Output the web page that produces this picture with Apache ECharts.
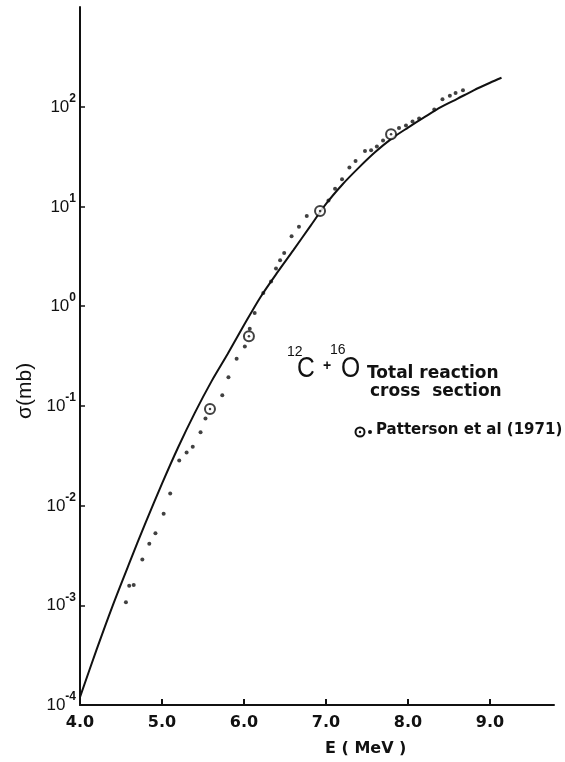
<!DOCTYPE html>
<html lang="en">
<head>
<meta charset="UTF-8">
<title>12C + 16O total reaction cross section</title>
<script src="https://cdn.jsdelivr.net/npm/echarts@6.0.0/dist/echarts.min.js"></script>
<style>
  html, body { margin: 0; padding: 0; background: #fff; }
  #chart { width: 565px; height: 762px; }
</style>
</head>
<body>
<div id="chart"></div>
<script type="text/javascript">
  // calculated curve (solid line)
  var curveE = [4.0, 4.2, 4.4, 4.6, 4.8, 5.0, 5.2, 5.4, 5.6, 5.8, 6.0, 6.2, 6.4, 6.6, 6.8, 7.0,
                7.2, 7.4, 7.6, 7.8, 8.0, 8.2, 8.4, 8.6, 8.8, 9.0, 9.14];
  var curveSigma = [1.2e-4, 3.55e-4, 1.0e-3, 2.63e-3, 6.76e-3, 1.66e-2, 3.89e-2, 8.51e-2, 0.174, 0.331,
                    0.646, 1.23, 2.14, 3.63, 6.2, 10.6, 16.6, 24.5, 35.1, 47.9, 61.7, 78.5, 98.9,
                    120, 146, 174, 195];

  // Patterson et al (1971) - dots
  var dotE = [4.56, 4.60, 4.655, 4.76, 4.845, 4.92, 5.02, 5.10, 5.21, 5.30, 5.375, 5.47, 5.53,
              5.735, 5.81, 5.91, 6.01, 6.07, 6.13, 6.235, 6.33, 6.39, 6.44, 6.49, 6.58, 6.67, 6.765,
              7.03, 7.11, 7.195, 7.285, 7.36, 7.475, 7.55, 7.62, 7.695, 7.89, 7.975, 8.055, 8.135,
              8.32, 8.42, 8.51, 8.58, 8.67];
  var dotSigma = [1.07e-3, 1.57e-3, 1.6e-3, 2.88e-3, 4.14e-3, 5.28e-3, 8.3e-3, 1.32e-2, 2.83e-2, 3.4e-2,
                  3.88e-2, 5.44e-2, 7.48e-2, 0.128, 0.194, 0.296, 0.394, 0.593, 0.853, 1.355, 1.77,
                  2.38, 2.88, 3.42, 5.02, 6.25, 8.02, 11.5, 15.0, 18.7, 24.5, 28.6, 36.0, 36.6, 39.9,
                  45.8, 61.0, 64.9, 71.1, 76.2, 94.0, 119, 129, 137, 146];

  // Patterson et al (1971) - circled points
  var circE = [5.585, 6.06, 6.927, 7.793];
  var circSigma = [0.093, 0.50, 9.0, 53.0];

  var xTicks = [4, 5, 6, 7, 8, 9];
  var yTicks = [1e-4, 1e-3, 1e-2, 1e-1, 1, 10, 100];

  function pairs(xs, ys) {
    var out = [];
    for (var i = 0; i < xs.length; i++) out.push([xs[i], ys[i]]);
    return out;
  }

  var font = '"Liberation Sans", "DejaVu Sans", sans-serif';
  var boldFont = '"DejaVu Sans", "Liberation Sans", sans-serif';
  var ink = '#111';

  var myChart = echarts.init(document.getElementById('chart'));
  myChart.setOption({
    animation: false,
    backgroundColor: '#fff',
    grid: { left: 80, right: 11, top: 7, bottom: 57 },
    xAxis: {
      type: 'value',
      min: 4,
      max: 9.78,
      splitLine: { show: false },
      axisLine: { lineStyle: { color: ink, width: 2 } },
      axisTick: { inside: true, length: 6, customValues: xTicks, lineStyle: { color: ink, width: 2 } },
      axisLabel: {
        customValues: xTicks,
        margin: 10,
        color: ink,
        fontFamily: boldFont,
        fontSize: 16,
        fontWeight: 'bold',
        formatter: function (v) { return v.toFixed(1); }
      }
    },
    yAxis: {
      type: 'log',
      logBase: 10,
      min: 1e-4,
      max: 1e3,
      splitLine: { show: false },
      axisLine: { lineStyle: { color: ink, width: 2 } },
      axisTick: { inside: true, length: 5, customValues: yTicks, lineStyle: { color: ink, width: 1.5 } },
      axisLabel: {
        customValues: yTicks,
        margin: 4,
        color: ink,
        formatter: function (v) {
          var e = Math.round(Math.log10(v));
          return '{b|10}{s|' + (e < 0 ? '-' + (-e) : e) + '}';
        },
        rich: {
          b: { fontFamily: font, fontSize: 17, color: ink, lineHeight: 18, verticalAlign: 'bottom' },
          s: { fontFamily: font, fontSize: 12, fontWeight: 'bold', color: ink, lineHeight: 12,
               verticalAlign: 'bottom', padding: [0, 0, 11, 0] }
        }
      }
    },
    series: [
      {
        name: 'calc',
        type: 'line',
        data: pairs(curveE, curveSigma),
        smooth: 0.3,
        showSymbol: false,
        lineStyle: { color: ink, width: 2 },
        z: 2
      },
      {
        name: 'dots',
        type: 'scatter',
        data: pairs(dotE, dotSigma),
        symbol: 'circle',
        symbolSize: 4,
        itemStyle: { color: ink },
        z: 3
      },
      {
        name: 'circles',
        type: 'scatter',
        data: pairs(circE, circSigma),
        symbol: 'circle',
        symbolSize: 10,
        itemStyle: { color: '#fff', borderColor: ink, borderWidth: 2 },
        z: 4
      },
      {
        name: 'circleCentres',
        type: 'scatter',
        data: pairs(circE, circSigma),
        symbol: 'circle',
        symbolSize: 2.5,
        itemStyle: { color: ink },
        z: 5
      }
    ],
    graphic: [
      // axis titles
      { type: 'text', x: 325, y: 741,
        style: { text: 'E ( MeV )', font: 'bold 16px ' + boldFont, fill: ink } },
      { type: 'text', x: 15, y: 419, rotation: Math.PI / 2,
        style: { text: 'σ(mb)', font: '21px ' + font, fill: ink } },
      // reaction label
      { type: 'text', x: 287, y: 345, style: { text: '12', font: '14px ' + font, fill: ink } },
      { type: 'text', x: 297, y: 354, scaleX: 0.85, style: { text: 'C', font: '29px ' + font, fill: ink } },
      { type: 'text', x: 323, y: 359, style: { text: '+', font: 'bold 14px ' + font, fill: ink } },
      { type: 'text', x: 330, y: 343, style: { text: '16', font: '14px ' + font, fill: ink } },
      { type: 'text', x: 341, y: 354, scaleX: 0.85, style: { text: 'O', font: '29px ' + font, fill: ink } },
      { type: 'text', x: 367, y: 365, style: { text: 'Total reaction', font: 'bold 17px ' + boldFont, fill: ink } },
      { type: 'text', x: 370, y: 383, style: { text: 'cross  section', font: 'bold 17px ' + boldFont, fill: ink } },
      // legend
      { type: 'circle', shape: { cx: 360, cy: 432, r: 4.5 },
        style: { fill: '#fff', stroke: ink, lineWidth: 2 } },
      { type: 'circle', shape: { cx: 360, cy: 432, r: 1.2 }, style: { fill: ink } },
      { type: 'circle', shape: { cx: 370, cy: 432, r: 2 }, style: { fill: ink } },
      { type: 'text', x: 376, y: 423, style: { text: 'Patterson et al (1971)', font: 'bold 15px ' + boldFont, fill: ink } }
    ]
  });
</script>
</body>
</html>
